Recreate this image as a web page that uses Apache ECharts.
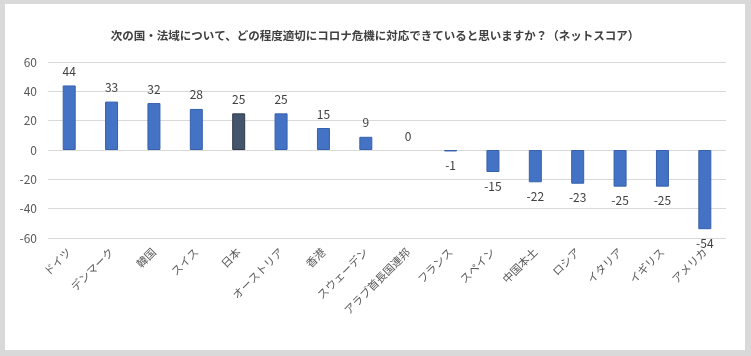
<!DOCTYPE html>
<html>
<head>
<meta charset="utf-8">
<script src="https://cdn.jsdelivr.net/npm/echarts@6/dist/echarts.min.js"></script>
<style>
html,body{margin:0;padding:0;background:#d9d9d9;width:751px;height:356px;overflow:hidden;}
#c{position:absolute;left:5px;top:4px;width:740px;height:346px;background:#ffffff;}
</style>
</head>
<body>
<div id="c"></div>
<script>
const titleText = '次の国・法域について、どの程度適切にコロナ危機に対応できていると思いますか？（ネットスコア）';
const categories = ['ドイツ','デンマーク','韓国','スイス','日本','オーストリア','香港','スウェーデン','アラブ首長国連邦','フランス','スペイン','中国本土','ロシア','イタリア','イギリス','アメリカ'];
const values = [44,33,32,28,25,25,15,9,0,-1,-15,-22,-23,-25,-25,-54];
const highlightCategory = '日本';
const yTicks = { min: -60, max: 60, step: 20 };

const font = '"Noto Sans CJK JP", "Noto Sans", sans-serif';
const chart = echarts.init(document.getElementById('c'), null, {renderer:'canvas'});
const seriesData = values.map((v, i) => {
  const isHi = categories[i] === highlightCategory;
  const style = isHi ? {color:'#44546a', borderColor:'#2f3b4b'} : {};
  if (v === 0) style.borderWidth = 0;
  return {
    value: v,
    itemStyle: style,
    label: {position: v < 0 ? 'bottom' : 'top'}
  };
});
chart.setOption({
  animation: false,
  textStyle: {fontFamily: font},
  title: {
    text: titleText,
    left: 'center',
    top: 21,
    textStyle: {fontFamily: font, fontSize: 11.5, fontWeight: 'bold', color: '#404040'}
  },
  grid: {left: 43, right: 19, top: 58, bottom: 112, containLabel: false},
  xAxis: {
    type: 'category',
    data: categories,
    position: 'bottom',
    axisLine: {show: false, onZero: false},
    axisTick: {show: false},
    axisLabel: {rotate: 45, fontSize: 11, color: '#595959', margin: 12, interval: 0, fontFamily: font}
  },
  yAxis: {
    type: 'value',
    min: yTicks.min, max: yTicks.max, interval: yTicks.step,
    axisLine: {show: false},
    axisTick: {show: false},
    axisLabel: {fontSize: 12, color: '#595959', margin: 11, fontFamily: font},
    splitLine: {lineStyle: {color: '#d9d9d9', width: 1}}
  },
  series: [{
    type: 'bar',
    data: seriesData,
    barWidth: 13,
    itemStyle: {color: '#4472c4', borderColor: '#3661ad', borderWidth: 1},
    label: {show: true, fontSize: 12, color: '#404040', distance: 8, fontFamily: font}
  }]
});
</script>
</body>
</html>
